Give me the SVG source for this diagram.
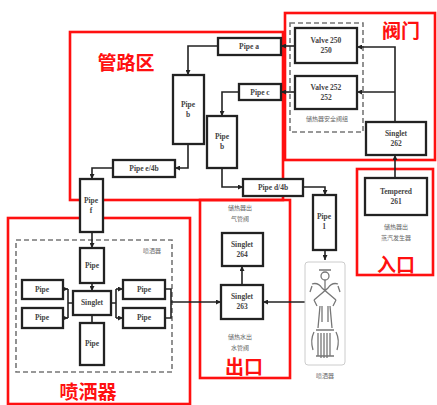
<svg xmlns="http://www.w3.org/2000/svg" width="437" height="405" viewBox="0 0 437 405">
  <style>
    .zone { fill: none; stroke: #ff1010; stroke-width: 2.6; }
    .zt { font-family: "Noto Sans CJK SC", "Noto Sans", sans-serif; font-weight: 700; font-size: 19px; fill: #ff1010; text-anchor: middle; }
    .box { fill: #fff; stroke: #222; stroke-width: 2.3; }
    .lbl { font-family: "Liberation Serif", serif; font-weight: 700; font-size: 7.5px; fill: #444; text-anchor: middle; }
    .cn { font-family: "Noto Sans CJK SC", sans-serif; font-size: 6px; fill: #666; text-anchor: middle; }
    .grp { fill: none; stroke: #777; stroke-width: 1.6; stroke-dasharray: 5 3; }
    .wire { fill: none; stroke: #222; stroke-width: 1.6; }
    .art { fill: none; stroke: #777; stroke-width: 1.3; }
  </style>
  <defs>
    <marker id="ah" viewBox="0 0 6 6" refX="6" refY="3" markerWidth="5" markerHeight="5" orient="auto" markerUnits="userSpaceOnUse">
      <path d="M0,0 L6,3 L0,6 z" fill="#222"/>
    </marker>
  </defs>
  <rect width="437" height="405" fill="#fff"/>

  <!-- zone frames -->
  <g id="zones">
    <rect class="zone" x="70" y="32" width="213" height="168"/>
    <rect class="zone" x="285" y="13" width="150" height="147"/>
    <rect class="zone" x="357" y="169" width="76" height="106"/>
    <rect class="zone" x="200" y="200" width="90" height="178"/>
    <rect class="zone" x="8" y="218" width="182" height="186"/>
    <text class="zt" x="126" y="70">管路区</text>
    <text class="zt" x="401" y="38">阀门</text>
    <text class="zt" x="396" y="272">入口</text>
    <text class="zt" x="244" y="374">出口</text>
    <text class="zt" x="88" y="399">喷洒器</text>
  </g>

  <!-- dashed groupings -->
  <g id="groups">
    <rect class="grp" x="290" y="23" width="73" height="109"/>
    <text class="cn" x="327" y="121">储热器安全阀组</text>
    <rect class="grp" x="16" y="240" width="156" height="132"/>
    <text class="cn" x="152" y="253">喷洒器</text>
  </g>

  <!-- connectors -->
  <g id="connectors">
    <path class="wire" d="M295,46 L281,46" marker-end="url(#ah)"/>
    <path class="wire" d="M295,92 L281,92" marker-end="url(#ah)"/>
    <path class="wire" d="M395,122 L395,47 L357,47" marker-end="url(#ah)"/>
    <path class="wire" d="M395,92 L357,92" marker-end="url(#ah)"/>
    <path class="wire" d="M395,178 L395,155" marker-end="url(#ah)"/>
    <path class="wire" d="M218,46 L188,46 L188,75" marker-end="url(#ah)"/>
    <path class="wire" d="M239,92 L222,92 L222,116" marker-end="url(#ah)"/>
    <path class="wire" d="M188,144 L188,168 L175,168" marker-end="url(#ah)"/>
    <path class="wire" d="M113,168 L92,168 L92,179" marker-end="url(#ah)"/>
    <path class="wire" d="M222,168 L222,187 L243,187" marker-end="url(#ah)"/>
    <path class="wire" d="M303,187 L325,187 L325,195" marker-end="url(#ah)"/>
    <path class="wire" d="M325,250 L325,260" marker-end="url(#ah)"/>
    <path class="wire" d="M92,232 L92,248" marker-end="url(#ah)"/>
    <path class="wire" d="M92,283 L92,291" marker-end="url(#ah)"/>
    <path class="wire" d="M92,315 L92,323"/>
    <path class="wire" d="M63,289 L68,289" marker-end="url(#ah)"/>
    <path class="wire" d="M63,318 L68,318" marker-end="url(#ah)"/>
    <path class="wire" d="M68,289 L68,318 M68,303 L73,303"/>
    <path class="wire" d="M111,303 L116,303 M116,289 L116,318"/>
    <path class="wire" d="M116,289 L123,289" marker-end="url(#ah)"/>
    <path class="wire" d="M116,318 L123,318" marker-end="url(#ah)"/>
    <path class="wire" d="M165,289 L171,289 L171,318 L165,318"/>
    <path class="wire" d="M171,302 L221,302" marker-end="url(#ah)"/>
    <path class="wire" d="M305,302 L263,302" marker-end="url(#ah)"/>
    <path class="wire" d="M242,285 L242,266" marker-end="url(#ah)"/>
  </g>

  <!-- valve zone -->
  <g id="valve250"><rect class="box" x="295" y="28" width="62" height="35"/><text class="lbl" x="326" y="43">Valve 250</text><text class="lbl" x="326" y="53">250</text></g>
  <g id="valve252"><rect class="box" x="295" y="76" width="62" height="33"/><text class="lbl" x="326" y="90">Valve 252</text><text class="lbl" x="326" y="100">252</text></g>
  <g id="singlet262"><rect class="box" x="366" y="122" width="60" height="33"/><text class="lbl" x="396" y="136">Singlet</text><text class="lbl" x="396" y="146">262</text></g>

  <!-- inlet zone -->
  <g id="tempered261"><rect class="box" x="365" y="178" width="62" height="37"/><text class="lbl" x="396" y="194">Tempered</text><text class="lbl" x="396" y="204">261</text>
    <text class="cn" x="396" y="229">储热器出</text><text class="cn" x="396" y="240">蒸汽发生器</text></g>

  <!-- piping zone -->
  <g id="pipeA"><rect class="box" x="218" y="38" width="63" height="17"/><text class="lbl" x="249" y="49">Pipe a</text></g>
  <g id="pipeC"><rect class="box" x="239" y="84" width="42" height="16"/><text class="lbl" x="260" y="95">Pipe c</text></g>
  <g id="pipeB1"><rect class="box" x="173" y="75" width="31" height="69"/><text class="lbl" x="188" y="107">Pipe</text><text class="lbl" x="188" y="117">b</text></g>
  <g id="pipeB2"><rect class="box" x="207" y="116" width="30" height="52"/><text class="lbl" x="222" y="139">Pipe</text><text class="lbl" x="222" y="149">b</text></g>
  <g id="pipeE"><rect class="box" x="113" y="160" width="62" height="17"/><text class="lbl" x="144" y="171">Pipe e/4b</text></g>
  <g id="pipeD"><rect class="box" x="243" y="179" width="60" height="17"/><text class="lbl" x="273" y="190">Pipe d/4b</text></g>
  <g id="pipeF"><rect class="box" x="80" y="179" width="23" height="53"/><text class="lbl" x="91" y="203">Pipe</text><text class="lbl" x="91" y="213">f</text></g>
  <g id="pipe1"><rect class="box" x="313" y="195" width="23" height="55"/><text class="lbl" x="324" y="219">Pipe</text><text class="lbl" x="324" y="229">1</text></g>

  <!-- outlet zone -->
  <g id="singlet264"><rect class="box" x="222" y="233" width="41" height="33"/><text class="lbl" x="242" y="247">Singlet</text><text class="lbl" x="242" y="257">264</text>
    <text class="cn" x="240" y="210">储热器出</text><text class="cn" x="240" y="221">气管阀</text></g>
  <g id="singlet263"><rect class="box" x="221" y="285" width="42" height="34"/><text class="lbl" x="242" y="299">Singlet</text><text class="lbl" x="242" y="309">263</text>
    <text class="cn" x="240" y="339">储热水出</text><text class="cn" x="240" y="350">水管阀</text></g>

  <!-- sprinkler cluster -->
  <g id="sprPipeTop"><rect class="box" x="80" y="248" width="24" height="35"/><text class="lbl" x="92" y="268">Pipe</text></g>
  <g id="sprSinglet"><rect class="box" x="73" y="291" width="38" height="24"/><text class="lbl" x="92" y="305">Singlet</text></g>
  <g id="sprPipeBottom"><rect class="box" x="80" y="323" width="24" height="42"/><text class="lbl" x="92" y="346">Pipe</text></g>
  <g id="sprPipeL1"><rect class="box" x="22" y="280" width="41" height="19"/><text class="lbl" x="42" y="292">Pipe</text></g>
  <g id="sprPipeL2"><rect class="box" x="22" y="308" width="41" height="20"/><text class="lbl" x="42" y="320">Pipe</text></g>
  <g id="sprPipeR1"><rect class="box" x="123" y="280" width="42" height="19"/><text class="lbl" x="144" y="292">Pipe</text></g>
  <g id="sprPipeR2"><rect class="box" x="123" y="308" width="42" height="20"/><text class="lbl" x="144" y="320">Pipe</text></g>

  <!-- sprinkler head drawing -->
  <g id="sprinklerHead">
    <rect x="305" y="262" width="40" height="103" rx="3" fill="#fff" stroke="#ccc" stroke-width="1"/>
    <circle class="art" cx="325" cy="276" r="4"/>
    <path class="art" d="M319,270 L331,270 M325,280 L325,290 M312,284 Q318,282 322,288 L336,300 M338,284 Q332,282 328,288 L314,300"/>
    <path class="art" d="M312,286 L310,292 M338,286 L340,292 M314,300 L317,306 M336,300 L333,306"/>
    <path class="art" d="M320,306 L318,328 M330,306 L332,328 M322,306 L322,322 M328,306 L328,322"/>
    <path class="art" d="M314,332 Q310,340 313,350 M336,332 Q340,340 337,350 M316,330 L334,330"/>
    <path class="art" d="M318,333 L318,356 M321,333 L321,358 M324,333 L324,358 M327,333 L327,358 M330,333 L330,356 M316,356 L334,356"/>
    <text class="cn" x="325" y="378">喷洒器</text>
  </g>
</svg>
